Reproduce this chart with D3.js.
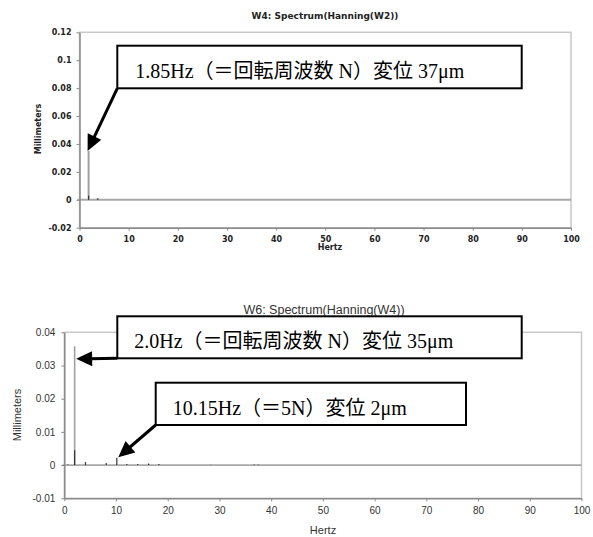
<!DOCTYPE html>
<html>
<head>
<meta charset="utf-8">
<script src="https://cdn.jsdelivr.net/npm/d3@7"></script>
<style>
  body { margin: 0; background: #fff; }
  svg { display: block; }
</style>
</head>
<body>
<svg id="chart" width="593" height="537"></svg>
<script>
// tick values
var hzTicks = [0, 10, 20, 30, 40, 50, 60, 70, 80, 90, 100];
var topMmTicks = [-0.02, 0, 0.02, 0.04, 0.06, 0.08, 0.1, 0.12];
var botMmTicks = [-0.01, 0, 0.01, 0.02, 0.03, 0.04];

// W4 spectrum (upper chart)
var topSpikeHz = [1.85, 3.7, 14.6, 75.5];
var topSpikeMm = [0.035, 0.0012, 0.0002, 0.0002];
var topDarkHz = [1.85, 3.7];
var topDarkMm = [0.003, 0.001];

// W6 spectrum (lower chart)
var botSpikeHz = [2.0];
var botSpikeMm = [0.0358];
var botDarkHz = [0.7, 2.0, 4.1, 8.1, 10.15, 12.1, 14.2, 16.3, 18.3, 28.4, 36.7, 37.5];
var botDarkMm = [0.0002, 0.0045, 0.0009, 0.0006, 0.0022, 0.0003, 0.0003, 0.0005, 0.0003, 0.0001, 0.0002, 0.0002];

// annotations
var topTitle = "W4: Spectrum(Hanning(W2))";
var botTitle = "W6: Spectrum(Hanning(W4))";
var topNote = "1.85Hz（＝回転周波数 N）変位 37μm";
var botNote1 = "2.0Hz（＝回転周波数 N）変位 35μm";
var botNote2 = "10.15Hz（＝5N）変位 2μm";

var svg = d3.select("#chart");
var noteFont = "'Liberation Serif', 'Noto Sans CJK JP', serif";

function zip(a, b) {
  return a.map(function(v, i) { return [v, b[i]]; });
}

function drawChart(o) {
  var x = d3.scaleLinear().domain([0, 100]).range([o.left, o.right]);
  var y = d3.scaleLinear().domain(o.yDomain).range([o.bottom, o.top]);
  var g = svg.append("g");

  // plot area frame
  g.append("rect")
    .attr("x", o.left).attr("y", o.top)
    .attr("width", o.right - o.left).attr("height", o.bottom - o.top)
    .attr("fill", "none").attr("stroke", "#c8c8c8").attr("stroke-width", 1.5);

  // zero line
  g.append("line")
    .attr("x1", o.left - 2).attr("x2", o.right)
    .attr("y1", y(0)).attr("y2", y(0))
    .attr("stroke", "#a8a8a8").attr("stroke-width", o.zeroWidth);

  // spikes
  g.selectAll(".spike").data(zip(o.spikeHz, o.spikeMm)).enter()
    .append("line")
    .attr("x1", function(d) { return x(d[0]); })
    .attr("x2", function(d) { return x(d[0]); })
    .attr("y1", y(0))
    .attr("y2", function(d) { return y(d[1]); })
    .attr("stroke", "#a0a0a0").attr("stroke-width", o.spikeWidth);

  g.selectAll(".dark").data(zip(o.darkHz, o.darkMm)).enter()
    .append("line")
    .attr("x1", function(d) { return x(d[0]); })
    .attr("x2", function(d) { return x(d[0]); })
    .attr("y1", y(0))
    .attr("y2", function(d) { return y(d[1]); })
    .attr("stroke", "#333").attr("stroke-width", 1.2);

  // axes
  var xAxis = d3.axisBottom(x).tickValues(hzTicks).tickSize(3).tickSizeOuter(0).tickPadding(o.xPad);
  var yAxis = d3.axisLeft(y).tickValues(o.yTicks).tickSize(3).tickSizeOuter(0).tickPadding(o.yPad)
    .tickFormat(function(d) { return String(+d.toFixed(3)); });

  var gx = g.append("g").attr("transform", "translate(0," + o.bottom + ")").call(xAxis);
  var gy = g.append("g").attr("transform", "translate(" + o.left + ",0)").call(yAxis);

  [gx, gy].forEach(function(a) {
    a.select(".domain").attr("stroke", "#8a8a8a").attr("stroke-width", 1.5);
    a.selectAll(".tick line").attr("stroke", "#8a8a8a");
    a.selectAll("text")
      .attr("font-family", o.font).attr("font-size", o.tickSize)
      .attr("font-weight", o.weight).attr("fill", o.textColor);
  });

  // titles
  g.append("text")
    .attr("x", o.titleX).attr("y", o.titleY)
    .attr("text-anchor", "middle")
    .attr("font-family", o.font).attr("font-size", o.titleSize)
    .attr("font-weight", o.weight).attr("fill", o.textColor)
    .text(o.title);

  g.append("text")
    .attr("x", o.hertzX).attr("y", o.hertzY)
    .attr("text-anchor", "middle")
    .attr("font-family", o.font).attr("font-size", o.labelSize)
    .attr("font-weight", o.weight).attr("fill", o.textColor)
    .text("Hertz");

  g.append("text")
    .attr("transform", "translate(" + o.mmX + "," + o.mmY + ") rotate(-90)")
    .attr("text-anchor", "middle")
    .attr("font-family", o.font).attr("font-size", o.labelSize)
    .attr("font-weight", o.weight).attr("fill", o.textColor)
    .text("Millimeters");

  // callouts
  o.notes.forEach(function(n) {
    var tx = x(n.hz) + n.dx, ty = y(n.mm) + n.dy;
    drawArrow(g, n.box[0], n.box[3], tx, ty);
    g.append("rect")
      .attr("x", n.box[0]).attr("y", n.box[1])
      .attr("width", n.box[2] - n.box[0]).attr("height", n.box[3] - n.box[1])
      .attr("fill", "#fff").attr("stroke", "#000").attr("stroke-width", 2);
    g.append("text")
      .attr("x", n.box[0] + n.textDx).attr("y", n.box[1] + n.textDy)
      .attr("font-family", noteFont).attr("font-size", 20)
      .attr("fill", "#000")
      .text(n.text);
  });
}

function drawArrow(g, x1, y1, x2, y2) {
  var len = Math.sqrt((x2 - x1) * (x2 - x1) + (y2 - y1) * (y2 - y1));
  var ux = (x2 - x1) / len, uy = (y2 - y1) / len;
  var head = 16, half = 7.5;
  var bx = x2 - ux * head, by = y2 - uy * head;
  g.append("line")
    .attr("x1", x1).attr("y1", y1).attr("x2", bx + ux * 2).attr("y2", by + uy * 2)
    .attr("stroke", "#000").attr("stroke-width", 3);
  g.append("path")
    .attr("d", "M" + x2 + "," + y2 +
      "L" + (bx - uy * half) + "," + (by + ux * half) +
      "L" + (bx + uy * half) + "," + (by - ux * half) + "Z")
    .attr("fill", "#000");
}

drawChart({
  left: 79.5, right: 571, top: 32.3, bottom: 227.7,
  yDomain: [-0.02, 0.12], yTicks: topMmTicks,
  spikeHz: topSpikeHz, spikeMm: topSpikeMm, darkHz: topDarkHz, darkMm: topDarkMm,
  spikeWidth: 2, zeroWidth: 2,
  font: "'DejaVu Sans', sans-serif", weight: "bold", textColor: "#222",
  tickSize: 8, labelSize: 8, titleSize: 9, xPad: 6, yPad: 5,
  title: topTitle, titleX: 325, titleY: 19,
  hertzX: 330, hertzY: 250, mmX: 41, mmY: 129,
  notes: [
    { text: topNote, hz: 1.85, mm: 0.035, dx: -1, dy: 0,
      box: [117.3, 45.7, 521.7, 88.3], textDx: 18, textDy: 32 }
  ]
});

drawChart({
  left: 64.3, right: 581.5, top: 332.3, bottom: 498.3,
  yDomain: [-0.01, 0.04], yTicks: botMmTicks,
  spikeHz: botSpikeHz, spikeMm: botSpikeMm, darkHz: botDarkHz, darkMm: botDarkMm,
  spikeWidth: 1.6, zeroWidth: 1.6,
  font: "'Liberation Sans', Arial, sans-serif", weight: "normal", textColor: "#333",
  tickSize: 10, labelSize: 11, titleSize: 12.5, xPad: 6, yPad: 6,
  title: botTitle, titleX: 324, titleY: 314,
  hertzX: 323, hertzY: 534, mmX: 21, mmY: 415,
  notes: [
    { text: botNote1, hz: 2.0, mm: 0.032, dx: 1.5, dy: 0,
      box: [117.3, 316.3, 521.7, 358.3], textDx: 17, textDy: 32 },
    { text: botNote2, hz: 10.15, mm: 0.0024, dx: 1.5, dy: 0,
      box: [155.7, 382.7, 466, 425], textDx: 17, textDy: 32 }
  ]
});
</script>
</body>
</html>
